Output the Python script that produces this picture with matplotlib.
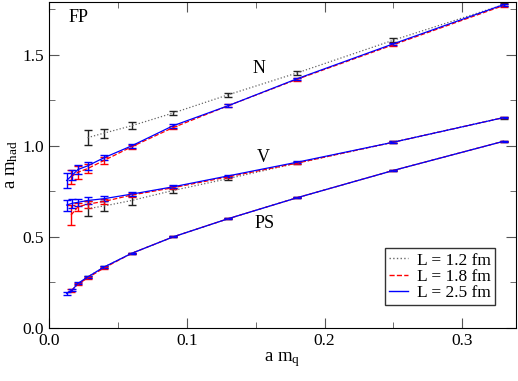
import matplotlib
matplotlib.use("Agg")
import matplotlib.pyplot as plt
from matplotlib.lines import Line2D
from matplotlib.ticker import MultipleLocator, FormatStrFormatter

plt.rcParams['font.family'] = ['Liberation Serif', 'DejaVu Serif']
plt.rcParams['mathtext.fontset'] = 'stix'

# quark masses per volume
mq_12 = [0.028, 0.04, 0.06, 0.09, 0.13, 0.18, 0.25, 0.33]
mq_18 = [0.016, 0.021, 0.028, 0.04, 0.06, 0.09, 0.13, 0.18, 0.25, 0.33]
mq_25 = [0.0128, 0.017, 0.021, 0.028, 0.04, 0.06, 0.09, 0.13, 0.18, 0.25, 0.33]

# L = 1.2 fm
N_12 = [1.045, 1.07, 1.11, 1.18, 1.28, 1.40, 1.58, 1.775]
N_12_err = [0.04, 0.025, 0.02, 0.012, 0.01, 0.01, 0.01, 0.008]
V_12 = [0.655, 0.67, 0.70, 0.755, 0.82, 0.905, 1.02, 1.155]
V_12_err = [0.04, 0.03, 0.025, 0.015, 0.01, 0.007, 0.006, 0.005]
PS_12 = [0.28, 0.335, 0.41, 0.50, 0.60, 0.715, 0.865, 1.025]
PS_12_err = [0.004, 0.004, 0.003, 0.003, 0.003, 0.003, 0.003, 0.003]

# L = 1.8 fm
N_18 = [0.83, 0.855, 0.875, 0.92, 0.995, 1.10, 1.22, 1.365, 1.555, 1.77]
N_18_err = [0.04, 0.035, 0.025, 0.02, 0.012, 0.01, 0.008, 0.007, 0.007, 0.006]
V_18 = [0.62, 0.665, 0.68, 0.695, 0.73, 0.77, 0.83, 0.905, 1.02, 1.155]
V_18_err = [0.055, 0.02, 0.02, 0.015, 0.01, 0.008, 0.006, 0.005, 0.005, 0.004]
PS_18 = [0.205, 0.24, 0.275, 0.33, 0.41, 0.50, 0.60, 0.715, 0.865, 1.025]
PS_18_err = [0.008, 0.006, 0.005, 0.004, 0.003, 0.003, 0.003, 0.003, 0.003, 0.003]

# L = 2.5 fm
N_25 = [0.81, 0.84, 0.87, 0.89, 0.935, 1.0, 1.11, 1.22, 1.368, 1.56, 1.775]
N_25_err = [0.04, 0.03, 0.025, 0.02, 0.015, 0.012, 0.01, 0.008, 0.007, 0.007, 0.006]
V_25 = [0.675, 0.685, 0.69, 0.70, 0.71, 0.735, 0.775, 0.835, 0.91, 1.02, 1.155]
V_25_err = [0.03, 0.025, 0.02, 0.018, 0.012, 0.01, 0.008, 0.006, 0.005, 0.005, 0.004]
PS_25 = [0.19, 0.21, 0.245, 0.28, 0.335, 0.41, 0.50, 0.60, 0.715, 0.865, 1.025]
PS_25_err = [0.006, 0.006, 0.005, 0.004, 0.004, 0.003, 0.003, 0.003, 0.003, 0.003, 0.003]

labels = ['L = 1.2 fm', 'L = 1.8 fm', 'L = 2.5 fm']

fig = plt.figure(figsize=(5.18, 3.81), dpi=100)
ax = fig.add_axes([0.0946, 0.139, 0.9015, 0.856])

def draw(x, y, err, color, ecolor, ls):
    ax.errorbar(x, y, yerr=err, color=color, ecolor=ecolor, ls=ls, lw=0.9,
                elinewidth=1.0, capsize=3.2, capthick=1.0)

for y, e in [(N_12, N_12_err), (V_12, V_12_err), (PS_12, PS_12_err)]:
    draw(mq_12, y, e, '#666666', '#222222', ':')
for y, e in [(N_18, N_18_err), (V_18, V_18_err), (PS_18, PS_18_err)]:
    draw(mq_18, y, e, 'red', 'red', '--')
for y, e in [(N_25, N_25_err), (V_25, V_25_err), (PS_25, PS_25_err)]:
    draw(mq_25, y, e, 'blue', 'blue', '-')

ax.set_xlim(0, 0.339)
ax.set_ylim(0, 1.79)
ax.xaxis.set_major_locator(MultipleLocator(0.1))
ax.xaxis.set_minor_locator(MultipleLocator(0.05))
ax.yaxis.set_major_locator(MultipleLocator(0.5))
ax.yaxis.set_minor_locator(MultipleLocator(0.25))
ax.tick_params(which='both', direction='in', top=True, right=True, labelsize=12.5)
ax.tick_params(which='major', length=7, color='#555555')
ax.tick_params(which='minor', length=4, color='#555555')
ax.xaxis.set_major_formatter(FormatStrFormatter('%.1f'))
ax.yaxis.set_major_formatter(FormatStrFormatter('%.1f'))

ax.set_xlabel(r'a m$_\mathregular{q}$', fontsize=13.5, labelpad=1)
ax.set_ylabel(r'a m$_\mathregular{had}$', fontsize=13.5, labelpad=2)

ax.text(0.014, 1.68, 'FP', fontsize=13)
ax.text(0.148, 1.40, 'N', fontsize=13)
ax.text(0.151, 0.91, 'V', fontsize=13)
ax.text(0.149, 0.55, 'PS', fontsize=13)

handles = [Line2D([], [], color='#666666', ls=':', lw=1),
           Line2D([], [], color='red', ls='--', lw=1),
           Line2D([], [], color='blue', ls='-', lw=1)]
ax.legend(handles, labels, loc='lower right', bbox_to_anchor=(0.955, 0.07),
          fontsize=12.5, frameon=True, fancybox=False, edgecolor='black',
          handlelength=1.1, borderpad=0.25, labelspacing=0.0, handletextpad=0.5,
          borderaxespad=0)

fig.savefig('out.png', dpi=100)
